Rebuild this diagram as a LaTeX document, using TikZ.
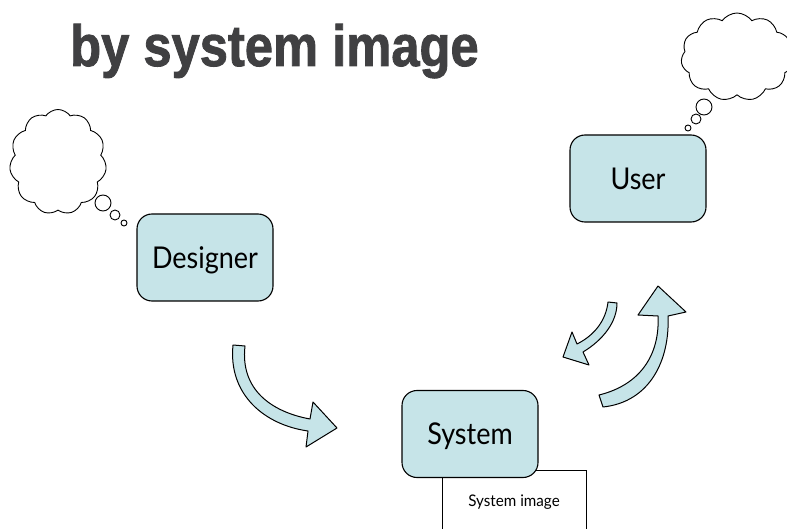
\documentclass[tikz,border=0pt]{standalone}
\usepackage{fontspec}
\setmainfont{Lato}
\newfontfamily\titlefont{Liberation Sans}[BoldFeatures={FakeBold=1.6}]
\usetikzlibrary{shapes.symbols}
\definecolor{boxfill}{HTML}{C6E4E8}
\definecolor{titlegray}{HTML}{404042}
\newcommand{\actorlabel}[1]{\scalebox{0.9}[1]{#1}}
\tikzset{
  actor/.style={draw=black, line width=1.1pt, fill=boxfill, rounded corners=15pt,
    minimum width=136pt, minimum height=87pt, inner sep=0pt,
    text height=21.7pt, text depth=0pt,
    font=\fontsize{30}{30}\selectfont},
  blockarrow/.style={draw=black, line width=1pt, fill=boxfill, line join=round},
  thought/.style={draw=black, line width=0.9pt, fill=white, cloud, cloud puffs=11,
    cloud puff arc=110, inner sep=0pt},
  bubble/.style={draw=black, line width=0.9pt, fill=white, circle, inner sep=0pt}
}
\begin{document}
\begin{tikzpicture}[x=1pt,y=-1pt]
\useasboundingbox (0,0) rectangle (787,529);

% heading
\node[anchor=base west, inner sep=0pt, text=titlegray] (title) at (70,66)
  {\scalebox{0.874}[1]{\titlefont\bfseries\fontsize{58}{58}\selectfont by system image}};

% thought clouds with their bubbles
\node[thought, minimum width=97pt, minimum height=105pt] (cloudL) at (58,162) {};
\node[bubble, minimum size=16pt] (bl1) at (103,203) {};
\node[bubble, minimum size=10pt] (bl2) at (115,215) {};
\node[bubble, minimum size=6pt] (bl3) at (124,223) {};

\node[thought, minimum width=112pt, minimum height=88pt] (cloudR) at (737,57) {};
\node[bubble, minimum size=16pt] (br1) at (704,107) {};
\node[bubble, minimum size=10pt] (br2) at (696,119) {};
\node[bubble, minimum size=6pt] (br3) at (688,128) {};

% the three actors
\node[actor] (designer) at (205,257.5) {\actorlabel{Designer}};
\node[actor] (user) at (638,178.5) {\actorlabel{User}};
\draw[line width=0.9pt, fill=white] (442,470) rectangle (586,540);
\node[font=\fontsize{16}{16}\selectfont] (sysimg) at (514,502) {\scalebox{0.95}[1]{System image}};
\node[actor] (system) at (470,434) {\actorlabel{System}};

% designer to system
\draw[blockarrow] (233,345) .. controls (228,395) and (265,425) .. (308,431)
  -- (306,447) -- (337,428) -- (313,402) -- (310,419)
  .. controls (272,412) and (240,390) .. (245,346) -- cycle;

% user to system
\draw[blockarrow] (608,302) .. controls (606,320) and (595,335) .. (577,344)
  -- (572,332) -- (563,357) -- (589,365) -- (583,352)
  .. controls (603,340) and (617,322) .. (617,303) -- cycle;

% system to user
\draw[blockarrow] (599,395) .. controls (640,385) and (660,355) .. (658,316)
  -- (638,315) -- (658,286) -- (686,312) -- (668,316)
  .. controls (670,360) and (650,402) .. (603,407) -- cycle;
\end{tikzpicture}
\end{document}
